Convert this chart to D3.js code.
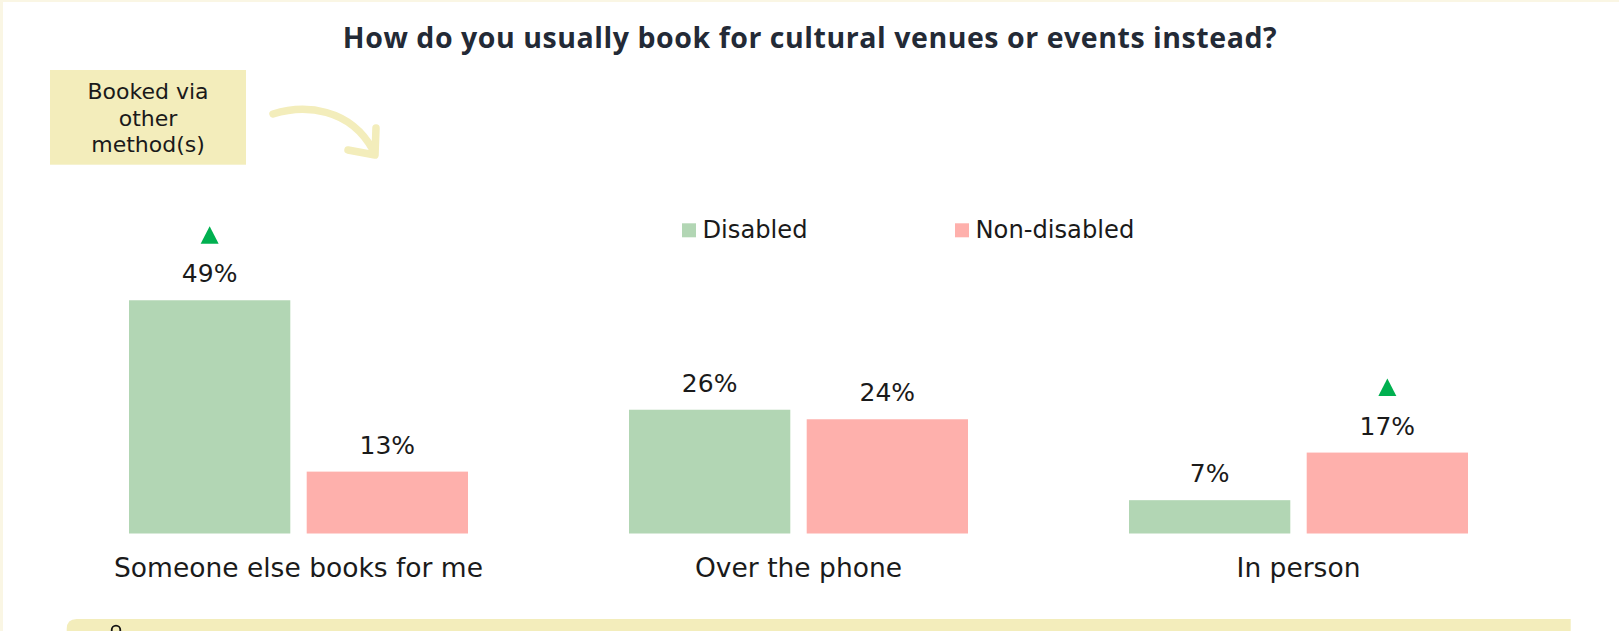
<!DOCTYPE html>
<html>
<head>
<meta charset="utf-8">
<script src="https://cdn.jsdelivr.net/npm/d3@7"></script>
<style>
  html, body { margin: 0; padding: 0; background: #ffffff; }
  svg { display: block; }
</style>
</head>
<body>
<svg id="chart" width="1619" height="631"></svg>
<script>
// Booking methods used instead, by disability status (%)
const categories = ["Someone else books for me", "Over the phone", "In person"];
const series = ["Disabled", "Non-disabled"];
const disabledValues = [49, 26, 7];
const nonDisabledValues = [13, 24, 17];
// Significantly higher than the other group
const disabledHigher = [true, false, false];
const nonDisabledHigher = [false, false, true];

const colors = { "Disabled": "#b2d6b4", "Non-disabled": "#feb0ac" };
const cream = "#f3edbb";
const textColor = "#1a1a1a";
const regularFont = "'DejaVu Sans', 'Noto Sans', sans-serif";
const titleFont = "'Open Sans', 'Noto Sans', sans-serif";

const rows = categories.map((c, i) => ({
  category: c,
  bars: [
    { series: "Disabled", value: disabledValues[i], higher: disabledHigher[i] },
    { series: "Non-disabled", value: nonDisabledValues[i], higher: nonDisabledHigher[i] }
  ]
}));

const svg = d3.select("#chart");
const W = 1619, H = 631;

// page frame
svg.append("rect").attr("x", 0).attr("y", 0).attr("width", W).attr("height", H).attr("fill", "#ffffff");
svg.append("rect").attr("x", 0).attr("y", 0).attr("width", W).attr("height", 2).attr("fill", "#faf6e4");
svg.append("rect").attr("x", 0).attr("y", 0).attr("width", 3).attr("height", H).attr("fill", "#faf6e4");

// title
svg.append("text")
  .attr("x", 810).attr("y", 47.5)
  .attr("text-anchor", "middle")
  .style("font-family", titleFont)
  .style("font-weight", 700)
  .style("font-size", "28.5px")
  .style("letter-spacing", "0.55px")
  .attr("fill", "#232a36")
  .text("How do you usually book for cultural venues or events instead?");

// scales
const x0 = d3.scaleBand().domain(categories).range([129, 1468]).paddingInner(0.322);
const x1 = d3.scaleBand().domain(series).range([0, x0.bandwidth()]).paddingInner(0.0923);
const y = d3.scaleLinear().domain([0, 100]).range([533.5, 57.5]);

// bars
const groups = svg.append("g").selectAll("g")
  .data(rows).join("g")
  .attr("transform", d => `translate(${x0(d.category)},0)`);

groups.selectAll("rect")
  .data(d => d.bars).join("rect")
  .attr("x", d => x1(d.series))
  .attr("y", d => y(d.value))
  .attr("width", x1.bandwidth())
  .attr("height", d => y(0) - y(d.value))
  .attr("fill", d => colors[d.series]);

groups.selectAll("text.value")
  .data(d => d.bars).join("text")
  .attr("class", "value")
  .attr("x", d => x1(d.series) + x1.bandwidth() / 2)
  .attr("y", d => y(d.value) - 18)
  .attr("text-anchor", "middle")
  .style("font-family", regularFont)
  .style("font-size", "25px")
  .attr("fill", textColor)
  .text(d => d.value + "%");

// significance markers
groups.selectAll("path.marker")
  .data(d => d.bars.filter(b => b.higher)).join("path")
  .attr("class", "marker")
  .attr("d", d => {
    const cx = x1(d.series) + x1.bandwidth() / 2;
    const base = y(d.value) - 56.5;
    return `M${cx - 9},${base} L${cx + 9},${base} L${cx},${base - 17.5} Z`;
  })
  .attr("fill", "#00b050");

// category axis labels
const xAxis = d3.axisBottom(x0).tickSize(0).tickPadding(0);
const axisG = svg.append("g").attr("transform", "translate(0,558)").call(xAxis);
axisG.select(".domain").remove();
axisG.selectAll("text")
  .attr("dy", "0.72em")
  .attr("y", 0)
  .style("font-family", regularFont)
  .style("font-size", "26.5px")
  .attr("fill", textColor);

// legend
const legendX = d3.scaleOrdinal().domain(series).range([682, 955]);
const legend = svg.append("g").selectAll("g")
  .data(series).join("g")
  .attr("transform", d => `translate(${legendX(d)},0)`);
legend.append("rect")
  .attr("x", 0).attr("y", 223.3).attr("width", 14).attr("height", 14)
  .attr("fill", d => colors[d]);
legend.append("text")
  .attr("x", 20.5).attr("y", 238.3)
  .style("font-family", regularFont)
  .style("font-size", "24.2px")
  .attr("fill", textColor)
  .text(d => d);

// annotation note
svg.append("rect")
  .attr("x", 50).attr("y", 70).attr("width", 196).attr("height", 94.7)
  .attr("fill", cream);
const noteLines = ["Booked via", "other", "method(s)"];
svg.append("g").selectAll("text")
  .data(noteLines).join("text")
  .attr("x", 148)
  .attr("y", (d, i) => 99 + i * 26.7)
  .attr("text-anchor", "middle")
  .style("font-family", regularFont)
  .style("font-size", "22px")
  .attr("fill", textColor)
  .text(d => d);

// curved arrow
svg.append("path")
  .attr("d", "M273,114 C305,104 350,108 373,150")
  .attr("fill", "none").attr("stroke", cream)
  .attr("stroke-width", 7.5).attr("stroke-linecap", "round");
svg.append("path")
  .attr("d", "M348,150 L375,155 L376,128")
  .attr("fill", "none").attr("stroke", cream)
  .attr("stroke-width", 7.5).attr("stroke-linecap", "round").attr("stroke-linejoin", "round");

// footer band
svg.append("path")
  .attr("d", "M66.7,641 L66.7,629 Q66.7,619 76.7,619 L1570.7,619 L1570.7,641 Z")
  .attr("fill", cream);
svg.append("circle")
  .attr("cx", 116).attr("cy", 630).attr("r", 4.3)
  .attr("fill", "none").attr("stroke", "#111111").attr("stroke-width", 1.8);
</script>
</body>
</html>
